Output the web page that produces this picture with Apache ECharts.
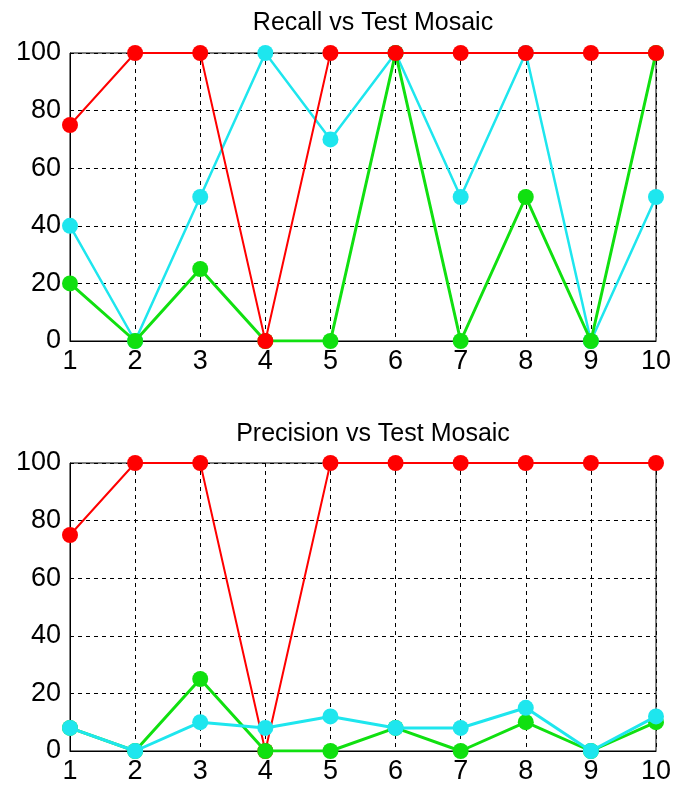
<!DOCTYPE html>
<html><head><meta charset="utf-8">
<script src="https://cdn.jsdelivr.net/npm/echarts@6/dist/echarts.min.js"></script>
<style>html,body{margin:0;padding:0;background:#fff}#c{width:683px;height:789px}</style>
</head><body><div id="c"></div>
<script>
const mosaics = ['1','2','3','4','5','6','7','8','9','10'];
const yTicks = [0,20,40,60,80,100];
const recallRed   = [75,100,100,0,100,100,100,100,100,100];
const recallCyan  = [40,0,50,100,70,100,50,100,0,50];
const recallGreen = [20,0,25,0,0,100,0,50,0,100];
const precRed   = [75,100,100,0,100,100,100,100,100,100];
const precGreen = [8,0,25,0,0,8,0,10,0,10];
const precCyan  = [8,0,10,8,12,8,8,15,0,12];

const RED='#ff0000', CYAN='#1ee6ee', GREEN='#10e010';
const font='Liberation Sans, Arial, sans-serif';
const chart = echarts.init(document.getElementById('c'));
function xAx(i){return {type:'category',gridIndex:i,data:mosaics,boundaryGap:false,
  axisLine:{lineStyle:{color:'#000',width:1}},axisTick:{show:false},
  axisLabel:{color:'#000',fontSize:27,fontFamily:font,margin:7},
  splitLine:{show:true,lineStyle:{color:'#000',type:[4,4],width:1}}};}
function yAx(i){return {type:'value',gridIndex:i,min:yTicks[0],max:yTicks[yTicks.length-1],interval:20,
  axisLine:{show:true,lineStyle:{color:'#000',width:1}},axisTick:{show:false},
  axisLabel:{color:'#000',fontSize:27,fontFamily:font,margin:9},
  splitLine:{show:true,lineStyle:{color:'#000',type:[4,4],width:1}}};}
function s(data,color,w,i,z){return {type:'line',data:data,xAxisIndex:i,yAxisIndex:i,
  symbol:'circle',symbolSize:16,z:z,animation:false,
  lineStyle:{color:color,width:w},itemStyle:{color:color}};}
chart.setOption({
  backgroundColor:'#fff',
  title:[
    {text:'Recall vs Test Mosaic',left:368,top:6,textAlign:'center',textStyle:{fontFamily:font,fontSize:25,fontWeight:'normal',color:'#000'}},
    {text:'Precision vs Test Mosaic',left:368,top:417,textAlign:'center',textStyle:{fontFamily:font,fontSize:25,fontWeight:'normal',color:'#000'}}
  ],
  grid:[
    {left:70,right:27,top:53,height:288,show:true,borderColor:'#000',borderWidth:1,backgroundColor:'#fff'},
    {left:70,right:27,top:463,height:288,show:true,borderColor:'#000',borderWidth:1,backgroundColor:'#fff'}
  ],
  xAxis:[xAx(0),xAx(1)],
  yAxis:[yAx(0),yAx(1)],
  series:[
    s(recallCyan,CYAN,2.5,0,2),
    s(recallGreen,GREEN,3,0,3),
    s(recallRed,RED,2,0,4),
    s(precRed,RED,2,1,2),
    s(precGreen,GREEN,3,1,3),
    s(precCyan,CYAN,3,1,4)
  ]
});
</script></body></html>
